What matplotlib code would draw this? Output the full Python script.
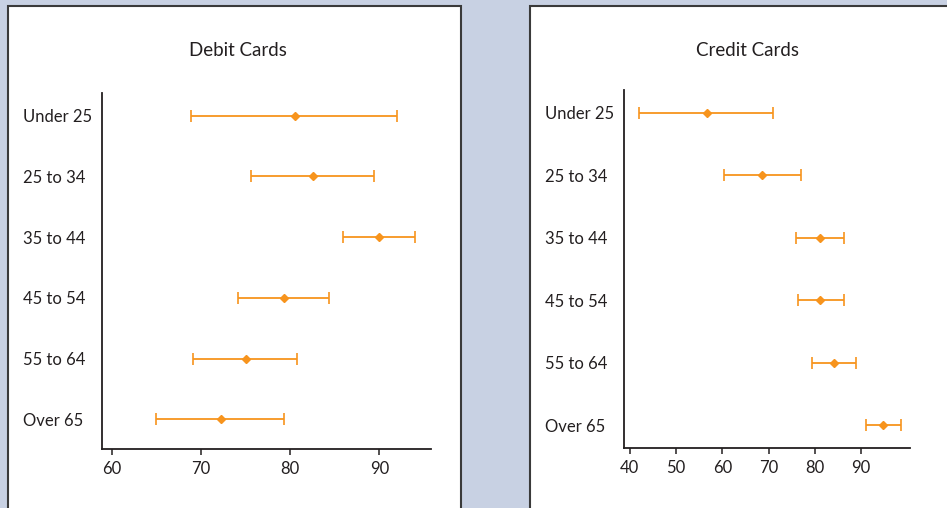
import matplotlib.pyplot as plt
from matplotlib.patches import Rectangle

plt.rcParams['font.family'] = ['Lato', 'DejaVu Sans']

ages = ['Under 25', '25 to 34', '35 to 44', '45 to 54', '55 to 64', 'Over 65']

# Debit cards: point estimate with lower / upper interval bounds
debit_mid = [80.5, 82.5, 90.0, 79.3, 75.0, 72.2]
debit_lo = [68.9, 75.6, 85.9, 74.1, 69.1, 64.9]
debit_hi = [92.0, 89.4, 94.0, 84.4, 80.8, 79.3]
debit_ticks = [60, 70, 80, 90]

# Credit cards
credit_mid = [56.8, 68.6, 81.2, 81.2, 84.1, 94.8]
credit_lo = [42.1, 60.3, 76.0, 76.3, 79.4, 91.0]
credit_hi = [71.0, 76.9, 86.3, 86.3, 88.9, 98.6]
credit_ticks = [40, 50, 60, 70, 80, 90]

ORANGE = '#f7941d'
INK = '#231f20'
W, H = 947, 508

fig = plt.figure(figsize=(W / 100, H / 100), dpi=100)
fig.patch.set_facecolor('#c8d1e3')

# white card behind each chart
for x0, x1 in [(8, 461), (530, 960)]:
    fig.patches.append(Rectangle((x0 / W, -0.05), (x1 - x0) / W, (H - 6) / H + 0.05,
                                 transform=fig.transFigure, facecolor='white',
                                 edgecolor='#3a3a3a', linewidth=1.5, zorder=-1))


def panel(rect, title, mid, lo, hi, ticks, xlim, ylim, title_x):
    ax = fig.add_axes(rect)
    ax.set_facecolor('none')
    ypos = list(range(len(ages)))
    err = [[m - l for m, l in zip(mid, lo)], [h - m for m, h in zip(mid, hi)]]
    ax.errorbar(mid, ypos, xerr=err, fmt='D', color=ORANGE, ecolor=ORANGE,
                markersize=4.2, elinewidth=1.3, capsize=4, capthick=1.2)
    ax.set_xlim(*xlim)
    ax.set_ylim(*ylim)
    ax.set_xticks(ticks)
    ax.set_yticks(ypos)
    ax.set_yticklabels(ages)
    for spine in ['top', 'right']:
        ax.spines[spine].set_visible(False)
    for spine in ['left', 'bottom']:
        ax.spines[spine].set_color(INK)
        ax.spines[spine].set_linewidth(1.3)
    ax.tick_params(axis='x', length=4, width=1.1, color=INK, labelsize=12,
                   labelcolor=INK, pad=4.5)
    ax.tick_params(axis='y', length=0, labelsize=12, labelcolor=INK, pad=57)
    for lab in ax.get_yticklabels():
        lab.set_horizontalalignment('left')
    fig.text(title_x / W, 1 - 50 / H, title, ha='center', va='center',
             fontsize=13.5, color=INK)
    return ax


panel([101.7 / W, (H - 449.3) / H, 329.3 / W, 356.6 / H], 'Debit Cards',
      debit_mid, debit_lo, debit_hi, debit_ticks,
      (58.86, 95.78), (5.494, -0.379), 238)
panel([624 / W, (H - 448) / H, 286 / W, 358 / H], 'Credit Cards',
      credit_mid, credit_lo, credit_hi, credit_ticks,
      (38.77, 100.53), (5.363, -0.368), 747)

fig.savefig('out.png', dpi=100, facecolor=fig.get_facecolor())
